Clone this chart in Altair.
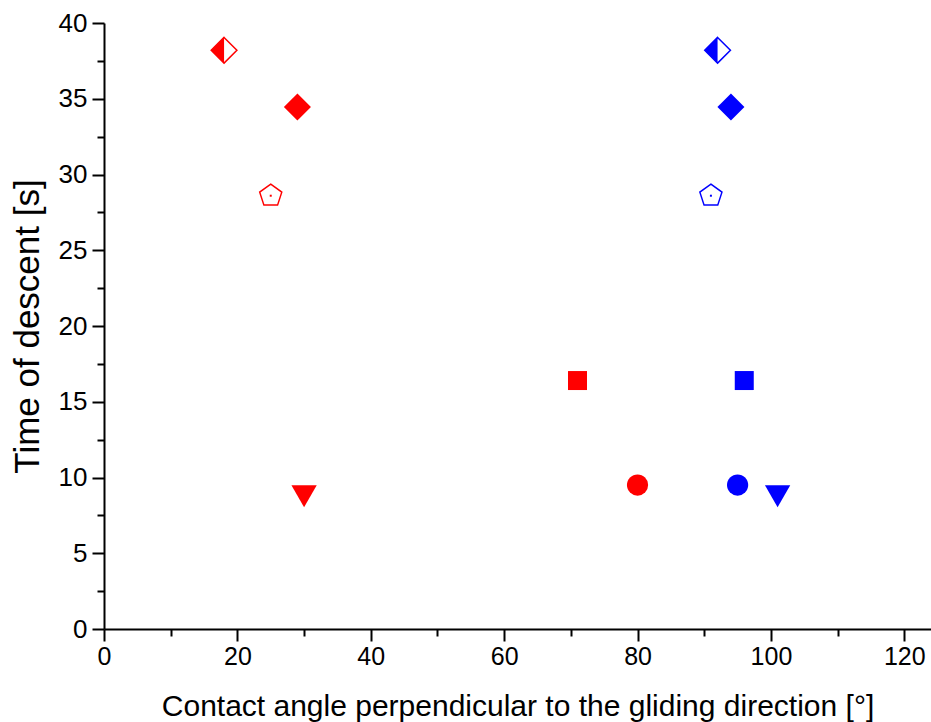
import altair as alt
import pandas as pd

# ---- data ----
markers = ["half-diamond", "diamond", "pentagon", "square", "circle", "triangle-down"]
time_of_descent = [38.2, 34.45, 28.6, 16.4, 9.5, 9.0]
red_angle = [18, 29, 25, 71, 80, 30]
blue_angle = [92, 94, 91, 96, 95, 101]
series_names = ["red", "blue"]
series_colors = ["#ff0000", "#0000ff"]
x_tick_values = [0, 10, 20, 30, 40, 50, 60, 70, 80, 90, 100, 110, 120]
y_tick_values = [0, 2.5, 5, 7.5, 10, 12.5, 15, 17.5, 20, 22.5, 25, 27.5, 30, 32.5, 35, 37.5, 40]

rows = []
for name, angles in zip(series_names, [red_angle, blue_angle]):
    for m, a, t in zip(markers, angles, time_of_descent):
        rows.append({"series": name, "marker": m, "angle": a, "time": t})
df = pd.DataFrame(rows)

# ---- marker shapes (unit box paths) ----
DIAMOND = "M0,-1L1,0L0,1L-1,0Z"
HALF_LEFT = "M0,-1L-1,0L0,1Z"
PENT = "M0,-1L0.951,-0.309L0.588,0.809L-0.588,0.809L-0.951,-0.309Z"
TRI_DOWN = "M-1,-0.577L1,-0.577L0,1.155Z"

color_scale = alt.Scale(domain=series_names, range=series_colors)
FONT = "Liberation Sans"

x_enc = alt.X(
    "angle:Q",
    scale=alt.Scale(domain=[0, 124], nice=False, zero=False),
    axis=alt.Axis(
        values=x_tick_values,
        labelExpr="datum.value % 20 === 0 ? datum.label : ''",
        title="Contact angle perpendicular to the gliding direction [°]",
        grid=False,
        domainColor="black", domainWidth=2,
        tickColor="black", tickWidth=2,
        tickSize={"condition": {"test": "datum.value % 20 === 0", "value": 12}, "value": 7},
        labelFont=FONT, labelFontSize=25, labelColor="black", labelPadding=3,
        labelFlush=False, labelOverlap=False,
        titleFont=FONT, titleFontSize=30, titleFontWeight="normal", titleColor="black",
        titlePadding=22,
    ),
)
y_enc = alt.Y(
    "time:Q",
    scale=alt.Scale(domain=[0, 40], nice=False, zero=False),
    axis=alt.Axis(
        values=y_tick_values,
        labelExpr="datum.value % 5 === 0 ? datum.label : ''",
        title="Time of descent [s]",
        grid=False,
        domainColor="black", domainWidth=2,
        tickColor="black", tickWidth=2,
        tickSize={"condition": {"test": "datum.value % 5 === 0", "value": 12}, "value": 7},
        labelFont=FONT, labelFontSize=26, labelColor="black", labelPadding=5,
        labelFlush=False, labelOverlap=False,
        titleFont=FONT, titleFontSize=35, titleFontWeight="normal", titleColor="black",
        titlePadding=13,
    ),
)

base = alt.Chart(df)


def pick(marker):
    return base.transform_filter(alt.FieldEqualPredicate(field="marker", equal=marker))


layers = [
    # half-filled diamond: white diamond with coloured outline, then left half filled
    pick("half-diamond").mark_point(shape=DIAMOND, size=660, filled=False, fill="white",
                                    strokeWidth=1.5, opacity=1).encode(
        x=x_enc, y=y_enc, stroke=alt.Stroke("series:N", scale=color_scale, legend=None)),
    pick("half-diamond").mark_point(shape=HALF_LEFT, size=660, filled=True,
                                    strokeWidth=0, opacity=1).encode(
        x=x_enc, y=y_enc, fill=alt.Fill("series:N", scale=color_scale, legend=None)),
    pick("diamond").mark_point(shape=DIAMOND, size=730, filled=True,
                               strokeWidth=0, opacity=1).encode(
        x=x_enc, y=y_enc, fill=alt.Fill("series:N", scale=color_scale, legend=None)),
    pick("pentagon").mark_point(shape=PENT, size=540, filled=False, fill="white",
                                strokeWidth=1.5, opacity=1).encode(
        x=x_enc, y=y_enc, stroke=alt.Stroke("series:N", scale=color_scale, legend=None)),
    pick("pentagon").mark_point(shape="square", size=4, filled=True,
                                strokeWidth=0, opacity=1).encode(
        x=x_enc, y=y_enc, fill=alt.Fill("series:N", scale=color_scale, legend=None)),
    pick("square").mark_point(shape="square", size=361, filled=True,
                              strokeWidth=0, opacity=1).encode(
        x=x_enc, y=y_enc, fill=alt.Fill("series:N", scale=color_scale, legend=None)),
    pick("circle").mark_point(shape="circle", size=450, filled=True,
                              strokeWidth=0, opacity=1).encode(
        x=x_enc, y=y_enc, fill=alt.Fill("series:N", scale=color_scale, legend=None)),
    pick("triangle-down").mark_point(shape=TRI_DOWN, size=640, filled=True,
                                     strokeWidth=0, opacity=1).encode(
        x=x_enc, y=y_enc, fill=alt.Fill("series:N", scale=color_scale, legend=None)),
]

chart = alt.layer(*layers).properties(
    width=827, height=606,
    autosize=alt.AutoSizeParams(type="none"),
    padding={"left": 104, "top": 23, "right": 0, "bottom": 93},
    background="white",
).configure_view(stroke=None)

chart.save("out.html", embed_options={"renderer": "svg", "actions": False})
